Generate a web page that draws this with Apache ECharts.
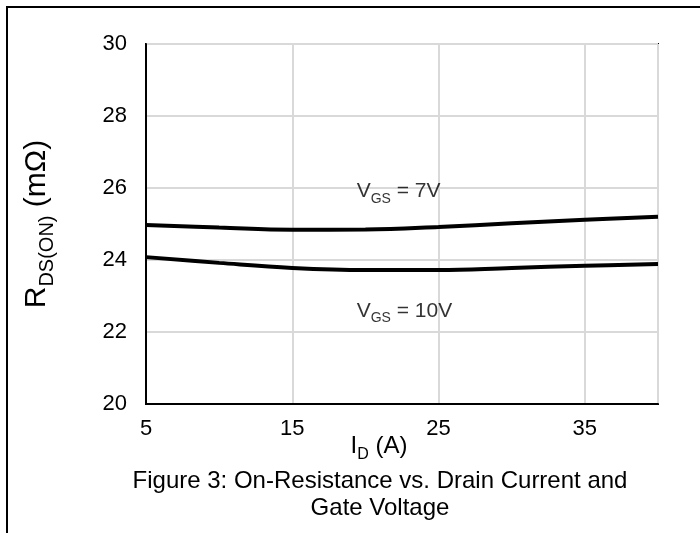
<!DOCTYPE html>
<html>
<head>
<meta charset="utf-8">
<script src="https://cdn.jsdelivr.net/npm/echarts@6/dist/echarts.min.js"></script>
<style>
html,body{margin:0;padding:0;background:#fff;}
#chart{width:700px;height:533px;}
</style>
</head>
<body>
<div id="chart"></div>
<script>
// Data
var currentA = [5, 10, 15, 20, 25, 30, 35, 40];
var rdsVgs7 = [24.97, 24.90, 24.84, 24.85, 24.92, 25.02, 25.12, 25.20];
var rdsVgs10 = [24.08, 23.92, 23.78, 23.72, 23.72, 23.78, 23.84, 23.89];
var xTicks = [5, 15, 25, 35];
var yTicks = [20, 22, 24, 26, 28, 30];
var seriesNames = ['VGS = 7V', 'VGS = 10V'];
var labelPos = [[19.4, 25.85], [19.4, 22.53]];

var FONT = '"Liberation Sans", Arial, sans-serif';
function pairs(xs, ys) { return xs.map(function (x, i) { return [x, ys[i]]; }); }
function richFor(size) {
  var sub = Math.round(size * 0.66);
  return {
    m: {fontSize: size, fontFamily: FONT, color: '#000', lineHeight: Math.round(size * 1.2), verticalAlign: 'top'},
    s: {fontSize: sub, fontFamily: FONT, color: '#000', lineHeight: sub, verticalAlign: 'top',
        padding: [Math.round(size * 0.5), 0, 0, 0]}
  };
}

var chart = echarts.init(document.getElementById('chart'), null, {renderer: 'canvas'});
chart.setOption({
  animation: false,
  backgroundColor: '#fff',
  grid: {left: 146, top: 44, right: 42, bottom: 129, show: true, borderColor: '#000', borderWidth: 2, backgroundColor: 'transparent'},
  xAxis: {
    type: 'value', min: xTicks[0], max: 40, interval: 10,
    axisLine: {show: true, lineStyle: {color: '#000', width: 2}},
    axisTick: {show: false},
    splitLine: {show: true, lineStyle: {color: '#d9d9d9', width: 2}},
    axisLabel: {color: '#000', fontSize: 22, fontFamily: FONT, margin: 14, showMaxLabel: false}
  },
  yAxis: {
    type: 'value', min: yTicks[0], max: yTicks[yTicks.length - 1], interval: 2,
    axisLine: {show: true, lineStyle: {color: '#000', width: 2}},
    axisTick: {show: false},
    splitLine: {show: true, lineStyle: {color: '#d9d9d9', width: 2}},
    axisLabel: {color: '#000', fontSize: 22, fontFamily: FONT, margin: 19},
    name: '{m|R}{s|DS(ON)}{m| (mΩ)}',
    nameLocation: 'middle', nameGap: 88, nameRotate: 90,
    nameTextStyle: {rich: richFor(30)}
  },
  series: [
    {
      type: 'line', name: seriesNames[0], data: pairs(currentA, rdsVgs7), smooth: 0.4,
      showSymbol: false, lineStyle: {color: '#000', width: 4}, z: 5
    },
    {
      type: 'line', name: seriesNames[1], data: pairs(currentA, rdsVgs10), smooth: 0.4,
      showSymbol: false, lineStyle: {color: '#000', width: 4}, z: 5
    },
    {
      type: 'scatter', data: labelPos, symbolSize: 0, silent: true,
      label: {
        show: true, position: 'right', distance: 0,
        formatter: function (p) {
          return p.dataIndex === 0 ? '{m|V}{s|GS}{m| = 7V}' : '{m|V}{s|GS}{m| = 10V}';
        },
        rich: richFor(21)
      }
    }
  ],
  graphic: [
    {type: 'line', shape: {x1: 6, y1: 7, x2: 700, y2: 7}, style: {stroke: '#000', lineWidth: 2}},
    {type: 'line', shape: {x1: 7, y1: 7, x2: 7, y2: 533}, style: {stroke: '#000', lineWidth: 2}},
    {type: 'text', x: 379, y: 449, style: {
      text: '{m|I}{s|D}{m| (A)}', rich: richFor(24), textAlign: 'center', textVerticalAlign: 'middle'
    }},
    {type: 'text', x: 380, y: 468, style: {
      text: 'Figure 3: On-Resistance vs. Drain Current and\nGate Voltage',
      font: '24px ' + FONT, fill: '#000', textAlign: 'center', lineHeight: 27
    }}
  ]
});
</script>
</body>
</html>
